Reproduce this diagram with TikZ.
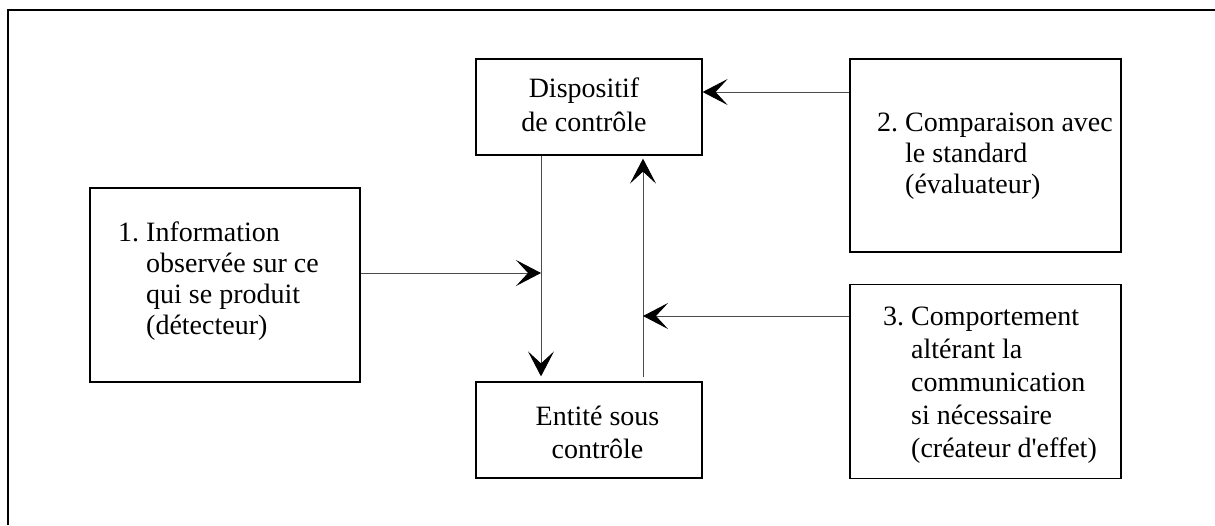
\documentclass[tikz,border=0pt]{standalone}
\usepackage{fontspec}
\setmainfont{Liberation Serif}
\usetikzlibrary{arrows.meta}
\begin{document}
\begin{tikzpicture}[x=1pt,y=-1pt,
  box/.style={draw=black, line width=1.2pt, rectangle, inner sep=0pt},
  listtext/.style={inner sep=0pt, align=left, font=\fontsize{28}{31}\selectfont},
  midtext/.style={inner sep=0pt, align=center, font=\fontsize{28}{34}\selectfont},
  conn/.style={draw=black!70, line width=0.9pt,
    -{Stealth[length=25pt, width=26pt, inset=12pt, color=black]}}]
\useasboundingbox (0,0) rectangle (1215,525);

% outer frame (left and top edges only)
\draw[line width=2pt] (8,525) -- (8,10) -- (1215,10);

% boxes
\node[box, minimum width=226pt, minimum height=96pt] (disp) at (589,107) {};
\node[box, minimum width=226pt, minimum height=96pt] (ent) at (589,430) {};
\node[box, minimum width=270pt, minimum height=194pt] (b1) at (225,285) {};
\node[box, minimum width=271pt, minimum height=193pt] (b2) at (985.5,155.5) {};
\node[box, minimum width=271pt, minimum height=194pt] (b3) at (985.5,381.5) {};

% texts (base anchor = baseline of the last line)
\node[midtext, anchor=base] (tdisp) at (584,131) {Dispositif\\de contrôle};
\node[midtext, anchor=base, font=\fontsize{28}{33}\selectfont] (tent) at (597.5,458) {Entité sous\\contrôle};
\node[listtext, anchor=base west] (t1) at (118,334)
  {1.~Information\\\hphantom{1.~}observée sur ce\\\hphantom{1.~}qui se produit\\\hphantom{1.~}(détecteur)};
\node[listtext, anchor=base west] (t2) at (877,193)
  {2.~Comparaison avec\\\hphantom{2.~}le standard\\\hphantom{2.~}(évaluateur)};
\node[listtext, anchor=base west, font=\fontsize{28}{33}\selectfont] (t3) at (883,457)
  {3.~Comportement\\\hphantom{3.~}altérant la\\\hphantom{3.~}communication\\\hphantom{3.~}si nécessaire\\\hphantom{3.~}(créateur d\textquotesingle effet)};

% junction points on the two vertical connectors
\coordinate (j1) at (541,273);
\coordinate (j3) at (643,316);
\coordinate (h2) at (850,92);

% connectors
\draw[conn, shorten >=5pt] (disp.south -| j1) -- (ent.north -| j1);
\draw[conn, shorten >=3pt, shorten <=4pt] (ent.north -| j3) -- (disp.south -| j3);
\draw[conn] (b2.west |- h2) -- (disp.east |- h2);
\draw[conn] (b1.east |- j1) -- (j1);
\draw[conn] (b3.west |- j3) -- (j3);
\end{tikzpicture}
\end{document}
